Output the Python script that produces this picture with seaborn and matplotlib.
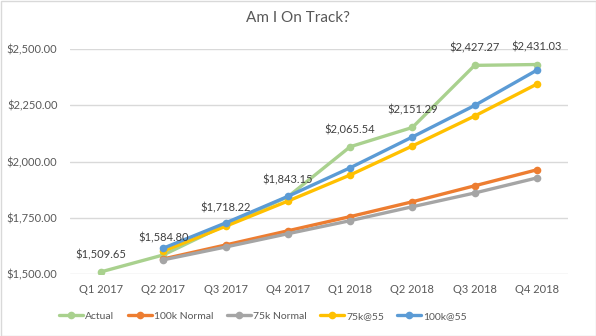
import matplotlib
matplotlib.use("Agg")
import matplotlib.pyplot as plt
import seaborn as sns
import pandas as pd
import numpy as np
from matplotlib.lines import Line2D
from matplotlib.patches import Rectangle

quarters = ["Q1 2017", "Q2 2017", "Q3 2017", "Q4 2017", "Q1 2018", "Q2 2018", "Q3 2018", "Q4 2018"]
actual = [1509.65, 1584.80, 1718.22, 1843.15, 2065.54, 2151.29, 2427.27, 2431.03]
normal_100k = [np.nan, 1567, 1629, 1692, 1755, 1821, 1892, 1963]
normal_75k = [np.nan, 1563, 1620, 1679, 1737, 1799, 1860, 1927]
at55_75k = [np.nan, 1602, 1712, 1824, 1940, 2069, 2202, 2344]
at55_100k = [np.nan, 1615, 1727, 1845, 1972, 2109, 2249, 2406]
series_names = ["Actual", "100k Normal", "75k Normal", "75k@55", "100k@55"]
colors = ["#A9D18E", "#ED7D31", "#A5A5A5", "#FFC000", "#5B9BD5"]
y_ticks = [1500, 1750, 2000, 2250, 2500]

sns.set_theme(style="white")
plt.rcParams["font.family"] = ["Lato", "DejaVu Sans"]

rows = []
for name, vals in zip(series_names, [actual, normal_100k, normal_75k, at55_75k, at55_100k]):
    for i, v in enumerate(vals):
        rows.append({"pos": i, "value": v, "series": name})
df = pd.DataFrame(rows).dropna()

fig = plt.figure(figsize=(5.96, 3.36), dpi=100)
ax = fig.add_axes([70/596, 1-274/336, 498/596, 225/336])

for name, col in zip(series_names, colors):
    sub = df[df["series"] == name]
    sns.lineplot(data=sub, x="pos", y="value", ax=ax, color=col, lw=2.4,
                 marker="o", markersize=5.5, markeredgewidth=0, legend=False,
                 sort=False)

for i, v in enumerate(actual):
    ax.annotate(f"${v:,.2f}", (i, v), xytext=(0, 12.5), textcoords="offset points",
                ha="center", va="center", fontsize=8, color="#404040")

ax.set_xlim(-0.5, len(quarters) - 0.5)
ax.set_ylim(1500, 2500)
ax.set_xticks(range(len(quarters)))
ax.set_xticklabels(quarters)
ax.set_yticks(y_ticks)
ax.set_yticklabels([f"${v:,.2f}" for v in y_ticks])
ax.tick_params(axis="both", labelsize=8, colors="#595959", length=0)
ax.tick_params(axis="x", pad=7)
ax.tick_params(axis="y", pad=9)
ax.set_xlabel("")
ax.set_ylabel("")
for s in ax.spines.values():
    s.set_visible(False)
ax.grid(axis="y", color="#D9D9D9", lw=1)
ax.set_axisbelow(True)

fig.text(0.5, 1-18/336, "Am I On Track?", ha="center", va="center", fontsize=11, color="#595959")

handles = [Line2D([0], [0], color=c, lw=2.4, marker="o", markersize=5.5, markeredgewidth=0)
           for c in colors]
fig.legend(handles, series_names, loc="center", bbox_to_anchor=(263/596, 1-316/336),
           ncol=5, frameon=False, fontsize=7.5, handlelength=2.3, handletextpad=0.2,
           columnspacing=1.3, labelcolor="#595959")

fig.patches.append(Rectangle((0.5/596, 0.5/336), 1-1/596, 1-1/336, transform=fig.transFigure,
                             fill=False, edgecolor="#D9D9D9", lw=1))

fig.savefig("out.png", dpi=100)
